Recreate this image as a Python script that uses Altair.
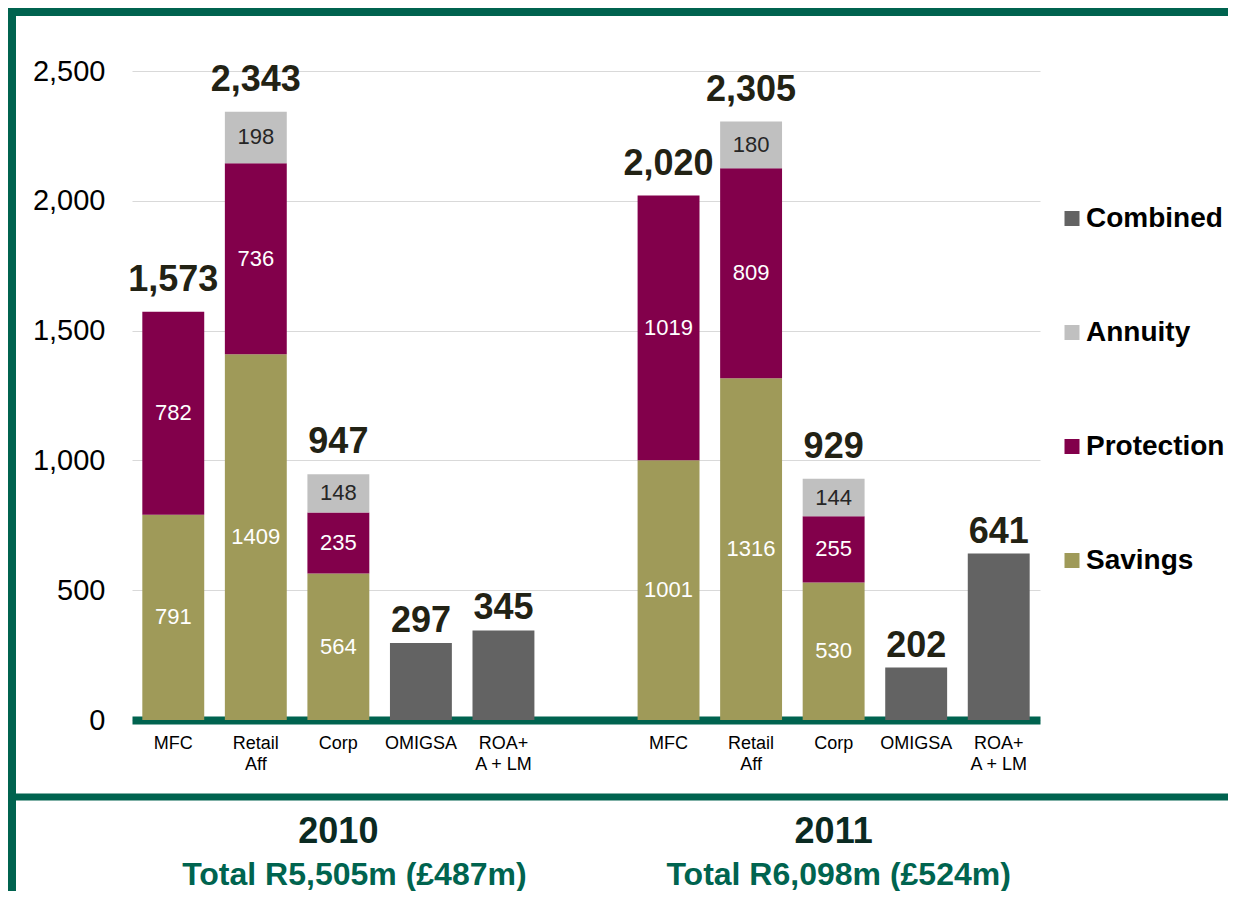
import altair as alt
import pandas as pd

FONT = "Liberation Sans"
GREEN = "#00634f"

groups = ["2010", "2011"]
categories = ["MFC", "Retail|Aff", "Corp", "OMIGSA", "ROA+|A + LM"]

savings_2010 = [791, 1409, 564, None, None]
protection_2010 = [782, 736, 235, None, None]
annuity_2010 = [None, 198, 148, None, None]
combined_2010 = [None, None, None, 297, 345]

savings_2011 = [1001, 1316, 530, None, None]
protection_2011 = [1019, 809, 255, None, None]
annuity_2011 = [None, 180, 144, None, None]
combined_2011 = [None, None, None, 202, 641]

y_ticks = [0, 500, 1000, 1500, 2000, 2500]

year_titles = ["2010", "2011"]
year_totals = ["Total R5,505m (£487m)", "Total R6,098m (£524m)"]

legend_order = ["Combined", "Annuity", "Protection", "Savings"]
legend_colors = ["#636363", "#c0c0c0", "#82004b", "#9f9a59"]
stack_order = {"Savings": 0, "Protection": 1, "Annuity": 2, "Combined": 3}

series_by_year = {
    "2010": {"Savings": savings_2010, "Protection": protection_2010,
             "Annuity": annuity_2010, "Combined": combined_2010},
    "2011": {"Savings": savings_2011, "Protection": protection_2011,
             "Annuity": annuity_2011, "Combined": combined_2011},
}

# slot keys: 5 categories, a gap, 5 categories
slot_keys = []
slot_of = {}
for gi, g in enumerate(groups):
    for ci, c in enumerate(categories):
        key = f"{gi * 6 + ci:02d}:{c}"
        slot_of[(g, c)] = key
        slot_keys.append(key)
    if gi == 0:
        slot_keys.append("05:")
slot_keys = sorted(slot_keys)

rows = []
for g in groups:
    for s, vals in series_by_year[g].items():
        for c, v in zip(categories, vals):
            if v is not None:
                rows.append({"slot": slot_of[(g, c)], "series": s,
                             "value": v, "order": stack_order[s]})
df = pd.DataFrame(rows)

X = alt.X("slot:N", title=None,
          scale=alt.Scale(domain=slot_keys, paddingInner=0.25, paddingOuter=0.125),
          axis=alt.Axis(labelExpr="split(slice(datum.value, 3), '|')"))

YSCALE = alt.Scale(domain=[0, 2500], nice=False)


def yax():
    return alt.Axis(values=y_ticks, labelExpr="format(datum.value, ',')")


base = alt.Chart(df)

bars = base.mark_bar().encode(
    x=X,
    y=alt.Y("value:Q", stack="zero", title=None, scale=YSCALE, axis=yax()),
    color=alt.Color("series:N",
                    scale=alt.Scale(domain=legend_order, range=legend_colors),
                    legend=alt.Legend(title=None)),
    order=alt.Order("order:Q"),
)

stacked = base.transform_filter("datum.series != 'Combined'").transform_stack(
    stack="value", groupby=["slot"], as_=["y0", "y1"],
    sort=[alt.SortField("order", order="ascending")]
).transform_calculate(mid="(datum.y0 + datum.y1) / 2")

white_labels = stacked.transform_filter(
    "datum.series == 'Savings' || datum.series == 'Protection'"
).mark_text(font=FONT, fontSize=22, color="#ffffff", baseline="middle").encode(
    x=X, y=alt.Y("mid:Q", title=None, scale=YSCALE, axis=yax()),
    text=alt.Text("value:Q"))

dark_labels = stacked.transform_filter("datum.series == 'Annuity'").mark_text(
    font=FONT, fontSize=22, color="#262626", baseline="middle").encode(
    x=X, y=alt.Y("mid:Q", title=None, scale=YSCALE, axis=yax()),
    text=alt.Text("value:Q"))

totals = base.transform_aggregate(
    total="sum(value)", kind="max(order)", groupby=["slot"])

totals_stacked = totals.transform_filter("datum.kind < 3").mark_text(
    font=FONT, fontSize=36, fontWeight="bold", color="#222214",
    baseline="alphabetic", dy=-21).encode(
    x=X, y=alt.Y("total:Q", title=None, scale=YSCALE, axis=yax()),
    text=alt.Text("total:Q", format=","))

totals_combined = totals.transform_filter("datum.kind == 3").mark_text(
    font=FONT, fontSize=36, fontWeight="bold", color="#222214",
    baseline="alphabetic", dy=-11).encode(
    x=X, y=alt.Y("total:Q", title=None, scale=YSCALE, axis=yax()),
    text=alt.Text("total:Q", format=","))

bottom_layers = []
total_dx = [16, 5]
for gi, g in enumerate(groups):
    bdf = pd.DataFrame({"slot": [slot_of[(g, "Corp")]],
                        "title": [year_titles[gi]], "total": [year_totals[gi]]})
    bottom_layers.append(alt.Chart(bdf).mark_text(
        font=FONT, fontSize=36, fontWeight="bold", color="#0b2a22",
        baseline="alphabetic").encode(x=X, y=alt.value(772), text="title:N"))
    bottom_layers.append(alt.Chart(bdf).mark_text(
        font=FONT, fontSize=32, fontWeight="bold", color="#00644f",
        baseline="alphabetic", dx=total_dx[gi]).encode(
        x=X, y=alt.value(814), text="total:N"))

one = pd.DataFrame({"a": [0]})
frame_top = alt.Chart(one).mark_rule(color=GREEN, strokeWidth=8).encode(
    x=alt.value(-124), x2=alt.value(1096), y=alt.value(-59))
frame_left = alt.Chart(one).mark_rule(color=GREEN, strokeWidth=8).encode(
    x=alt.value(-120), y=alt.value(-63), y2=alt.value(820))
separator = alt.Chart(one).mark_rule(color=GREEN, strokeWidth=7).encode(
    x=alt.value(-124), x2=alt.value(1096), y=alt.value(726))

chart = alt.layer(
    frame_top, frame_left, separator,
    bars, white_labels, dark_labels, totals_stacked, totals_combined,
    *bottom_layers
).properties(
    width=908, height=649,
    autosize=alt.AutoSizeParams(type="none"),
    padding={"left": 124, "top": 63, "right": 188, "bottom": 171},
).configure_view(stroke=None).configure_axisX(
    labelFont=FONT, labelFontSize=18, labelColor="#000000", labelAngle=0,
    labelLineHeight=21, labelPadding=14, ticks=False, grid=False,
    domainColor=GREEN, domainWidth=8, zindex=1, labelBaseline="top",
).configure_axisY(
    labelFont=FONT, labelFontSize=29, labelColor="#000000", labelPadding=27,
    ticks=False, domain=False, gridColor="#d9d9d9", gridWidth=1.2,
).configure_legend(
    orient="none", legendX=926, legendY=133.5, padding=0,
    labelFont=FONT, labelFontSize=28, labelFontWeight="bold", labelColor="#000000",
    symbolType="square", symbolSize=225, symbolStrokeWidth=0,
    rowPadding=86, labelOffset=0, labelLimit=300,
)

chart.save("out.html", embed_options={"renderer": "svg", "actions": False})
